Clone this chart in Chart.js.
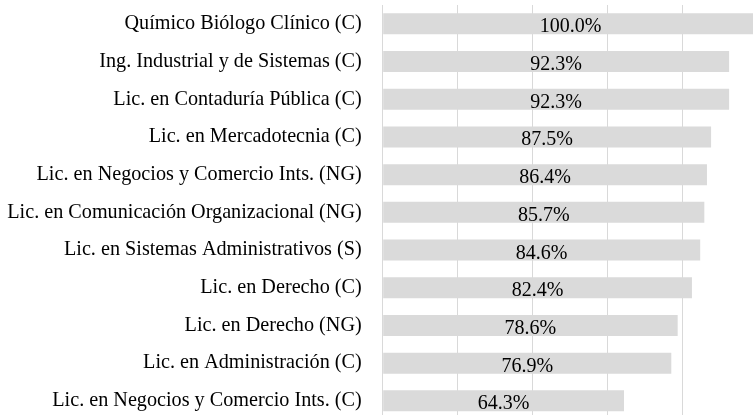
<!DOCTYPE html>
<html>
<head>
<meta charset="utf-8">
<script src="https://cdn.jsdelivr.net/npm/chart.js@4"></script>
<style>
  html, body { margin: 0; padding: 0; overflow: hidden; background: #fff; width: 753px; height: 415px; }
  #wrap { position: absolute; left: 0; top: 0; width: 770px; height: 425px; }
</style>
</head>
<body>
<div id="wrap"><canvas id="c" width="770" height="425"></canvas></div>
<script>
const categories = [
  "Químico Biólogo Clínico (C)",
  "Ing. Industrial y de Sistemas (C)",
  "Lic. en Contaduría Pública (C)",
  "Lic. en Mercadotecnia (C)",
  "Lic. en Negocios y Comercio Ints. (NG)",
  "Lic. en Comunicación Organizacional (NG)",
  "Lic. en Sistemas Administrativos (S)",
  "Lic. en Derecho (C)",
  "Lic. en Derecho (NG)",
  "Lic. en Administración (C)",
  "Lic. en Negocios y Comercio Ints. (C)"
];
const values = [100.0, 92.3, 92.3, 87.5, 86.4, 85.7, 84.6, 82.4, 78.6, 76.9, 64.3];

const FONT = '"Liberation Serif", "Times New Roman", serif';

const valueLabels = {
  id: 'valueLabels',
  afterDatasetsDraw(chart) {
    const ctx = chart.ctx;
    const meta = chart.getDatasetMeta(0);
    ctx.save();
    ctx.font = '20px ' + FONT;
    ctx.fillStyle = '#000';
    ctx.textAlign = 'center';
    ctx.textBaseline = 'alphabetic';
    meta.data.forEach((bar, i) => {
      const cx = (bar.base + bar.x) / 2;
      ctx.fillText(values[i].toFixed(1) + '%', cx, bar.y + 8.5);
    });
    ctx.restore();
  }
};

new Chart(document.getElementById('c'), {
  type: 'bar',
  data: {
    labels: categories,
    datasets: [{
      data: values,
      backgroundColor: '#dadada',
      borderWidth: 0,
      categoryPercentage: 1.0,
      barPercentage: 0.557
    }]
  },
  options: {
    indexAxis: 'y',
    responsive: false,
    animation: false,
    events: [],
    layout: { padding: { left: 0, top: 5, right: 12, bottom: 5.3 } },
    plugins: { legend: { display: false }, tooltip: { enabled: false } },
    scales: {
      x: {
        min: 0, max: 100,
        ticks: { display: false, stepSize: 20 },
        grid: { color: '#d9d9d9', lineWidth: 1, drawTicks: false, tickLength: 0 },
        border: { display: false },
        afterFit(scale) { scale.height = 0; scale.paddingLeft = 0; scale.paddingRight = 0; }
      },
      y: {
        ticks: { color: '#000', font: { family: FONT, size: 20.2 }, padding: 21 },
        grid: { display: false, drawTicks: false, tickLength: 0 },
        border: { display: true, color: '#d9d9d9', width: 1 },
        afterFit(scale) { scale.width = 382.7; scale.paddingTop = 0; scale.paddingBottom = 0; }
      }
    }
  },
  plugins: [valueLabels]
});
</script>
</body>
</html>
